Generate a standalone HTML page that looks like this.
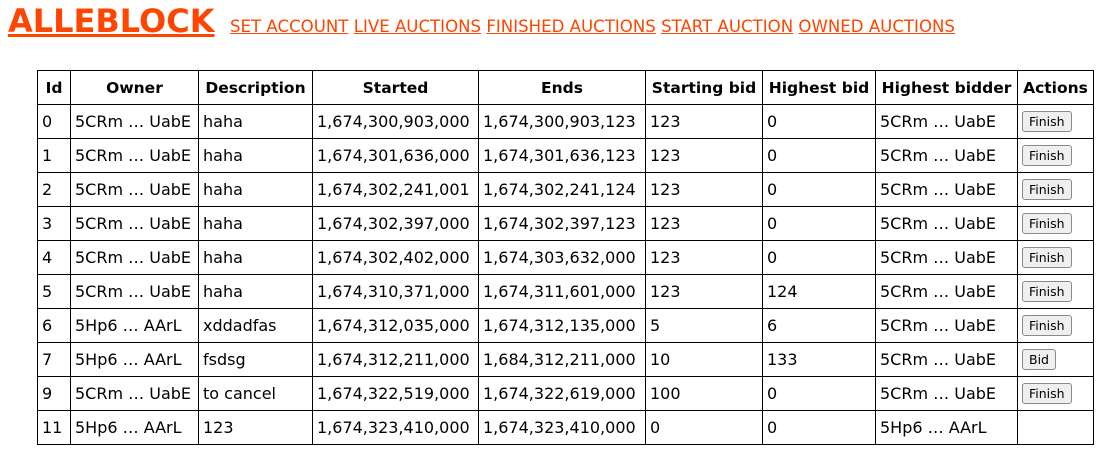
<!DOCTYPE html>
<html><head><meta charset="utf-8"><style>
body{margin:0;width:1117px;height:461px;background:#fff;font-family:"DejaVu Sans","Liberation Sans",sans-serif;position:relative;overflow:hidden}
#title{position:absolute;left:8px;top:2px;font-size:32px;font-weight:bold;color:#ff4500;text-decoration:underline;text-decoration-thickness:3px;letter-spacing:0}
#nav{position:absolute;left:230px;top:17px;font-size:16.6px;white-space:nowrap}
#nav a{color:#ff4500;text-decoration:underline}
table{position:absolute;left:37px;top:70px;border-collapse:collapse;table-layout:fixed;font-size:16px}
td,th{border:1px solid #000;height:33px;padding:0 4px;white-space:nowrap;overflow:hidden;text-align:left}
th{text-align:center;font-weight:bold;font-size:15.5px}
button{font-family:"DejaVu Sans",sans-serif;font-size:12.5px;background:#efefef;border:1px solid #8a8a8a;border-radius:3px;padding:2px 6px;color:#000}
</style></head><body>
<a id="title">ALLEBLOCK</a>
<div id="nav">
<a>SET ACCOUNT</a>
<a>LIVE AUCTIONS</a>
<a>FINISHED AUCTIONS</a>
<a>START AUCTION</a>
<a>OWNED AUCTIONS</a>
</div>
<table>
<colgroup><col style="width:33px"><col style="width:128px"><col style="width:114px"><col style="width:166px"><col style="width:167px"><col style="width:117px"><col style="width:113px"><col style="width:142px"><col style="width:76px"></colgroup>
<thead><tr><th>Id</th><th>Owner</th><th>Description</th><th>Started</th><th>Ends</th><th>Starting bid</th><th>Highest bid</th><th>Highest bidder</th><th>Actions</th></tr></thead>
<tbody id="tb"></tbody></table>
<script>
const rows=[
["0","5CRm … UabE","haha","1,674,300,903,000","1,674,300,903,123","123","0","5CRm … UabE","Finish"],
["1","5CRm … UabE","haha","1,674,301,636,000","1,674,301,636,123","123","0","5CRm … UabE","Finish"],
["2","5CRm … UabE","haha","1,674,302,241,001","1,674,302,241,124","123","0","5CRm … UabE","Finish"],
["3","5CRm … UabE","haha","1,674,302,397,000","1,674,302,397,123","123","0","5CRm … UabE","Finish"],
["4","5CRm … UabE","haha","1,674,302,402,000","1,674,303,632,000","123","0","5CRm … UabE","Finish"],
["5","5CRm … UabE","haha","1,674,310,371,000","1,674,311,601,000","123","124","5CRm … UabE","Finish"],
["6","5Hp6 … AArL","xddadfas","1,674,312,035,000","1,674,312,135,000","5","6","5CRm … UabE","Finish"],
["7","5Hp6 … AArL","fsdsg","1,674,312,211,000","1,684,312,211,000","10","133","5CRm … UabE","Bid"],
["9","5CRm … UabE","to cancel","1,674,322,519,000","1,674,322,619,000","100","0","5CRm … UabE","Finish"],
["11","5Hp6 … AArL","123","1,674,323,410,000","1,674,323,410,000","0","0","5Hp6 … AArL",""]];
const tb=document.getElementById('tb');
rows.forEach(r=>{
 const tr=document.createElement('tr');
 
 
 r.forEach((v,i)=>{
  const td=document.createElement('td');
  if(i===8){
   if(v){const b=document.createElement('button');b.textContent=v;
    
    
    td.appendChild(b);}
  } else td.textContent=v;
  tr.appendChild(td);
 });
 tb.appendChild(tr);
});
</script>
</body></html>
